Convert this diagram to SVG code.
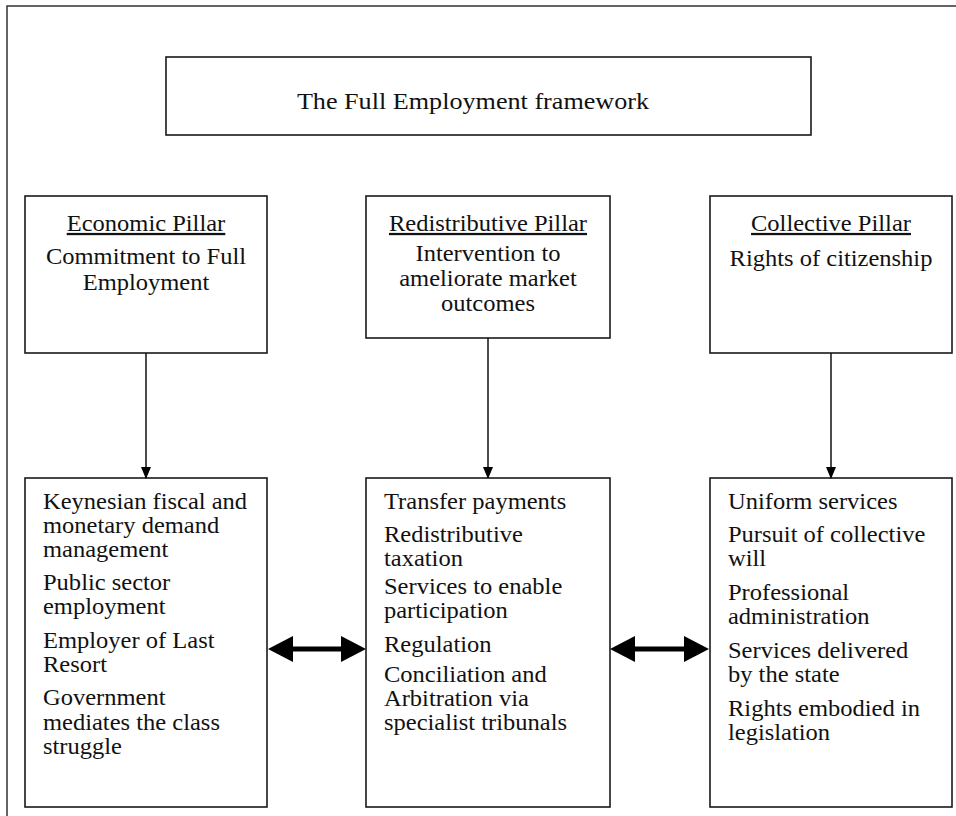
<svg xmlns="http://www.w3.org/2000/svg" width="956" height="816" viewBox="0 0 956 816">
<style>
.box{fill:#fff;stroke:#1a1a1a;stroke-width:1.6}
.t{font-family:"Liberation Serif","Times New Roman",serif;font-size:22.5px;fill:#111}
.c{text-anchor:middle}
.u{text-decoration:underline}
.ln{stroke:#111;stroke-width:1.5;fill:none}
.fr{stroke:#333;stroke-width:1.5;fill:none}
</style>
<defs>
<marker id="ah" markerWidth="12" markerHeight="10" refX="11" refY="5" orient="auto" markerUnits="userSpaceOnUse">
<path d="M0,0 L12,5 L0,10 Z" fill="#000"/>
</marker>
</defs>
<rect width="956" height="816" fill="#fff"/>
<path class="fr" d="M7,816 V6 H956"/>
<g id="title">
<rect class="box" x="166" y="57" width="645" height="78"/>
<g transform="translate(473 0) scale(1.09 1) translate(-473 0)">
<text class="t c" x="473" y="109" style="font-size:24px">The Full Employment framework</text>
</g>
</g>
<g id="economic-pillar">
<rect class="box" x="25" y="196" width="242" height="157"/>
<g transform="translate(146 0) scale(1.09 1) translate(-146 0)">
<text class="t c u" x="146" y="231">Economic Pillar</text>
<text class="t c" x="146" y="264">Commitment to Full</text>
<text class="t c" x="146" y="290">Employment</text>
</g>
</g>
<g id="redistributive-pillar">
<rect class="box" x="366" y="196" width="244" height="142"/>
<g transform="translate(488 0) scale(1.09 1) translate(-488 0)">
<text class="t c u" x="488" y="231">Redistributive Pillar</text>
<text class="t c" x="488" y="261">Intervention to</text>
<text class="t c" x="488" y="286">ameliorate market</text>
<text class="t c" x="488" y="311">outcomes</text>
</g>
</g>
<g id="collective-pillar">
<rect class="box" x="710" y="196" width="242" height="157"/>
<g transform="translate(831 0) scale(1.09 1) translate(-831 0)">
<text class="t c u" x="831" y="231">Collective Pillar</text>
<text class="t c" x="831" y="266">Rights of citizenship</text>
</g>
</g>
<g id="economic-measures">
<rect class="box" x="25" y="478" width="242" height="329"/>
<g transform="translate(43 0) scale(1.09 1) translate(-43 0)">
<text class="t" x="43" y="509">Keynesian fiscal and</text>
<text class="t" x="43" y="533">monetary demand</text>
<text class="t" x="43" y="557">management</text>
<text class="t" x="43" y="590">Public sector</text>
<text class="t" x="43" y="614">employment</text>
<text class="t" x="43" y="648">Employer of Last</text>
<text class="t" x="43" y="672">Resort</text>
<text class="t" x="43" y="705">Government</text>
<text class="t" x="43" y="730">mediates the class</text>
<text class="t" x="43" y="754">struggle</text>
</g>
</g>
<g id="redistributive-measures">
<rect class="box" x="366" y="478" width="244" height="329"/>
<g transform="translate(384 0) scale(1.09 1) translate(-384 0)">
<text class="t" x="384" y="509">Transfer payments</text>
<text class="t" x="384" y="542">Redistributive</text>
<text class="t" x="384" y="566">taxation</text>
<text class="t" x="384" y="594">Services to enable</text>
<text class="t" x="384" y="618">participation</text>
<text class="t" x="384" y="652">Regulation</text>
<text class="t" x="384" y="682">Conciliation and</text>
<text class="t" x="384" y="706">Arbitration via</text>
<text class="t" x="384" y="730">specialist tribunals</text>
</g>
</g>
<g id="collective-measures">
<rect class="box" x="710" y="478" width="242" height="329"/>
<g transform="translate(728 0) scale(1.09 1) translate(-728 0)">
<text class="t" x="728" y="509">Uniform services</text>
<text class="t" x="728" y="542">Pursuit of collective</text>
<text class="t" x="728" y="566">will</text>
<text class="t" x="728" y="600">Professional</text>
<text class="t" x="728" y="624">administration</text>
<text class="t" x="728" y="658">Services delivered</text>
<text class="t" x="728" y="682">by the state</text>
<text class="t" x="728" y="716">Rights embodied in</text>
<text class="t" x="728" y="740">legislation</text>
</g>
</g>
<g id="connectors">
<line class="ln" x1="146" y1="353" x2="146" y2="478" marker-end="url(#ah)"/>
<line class="ln" x1="488" y1="338" x2="488" y2="478" marker-end="url(#ah)"/>
<line class="ln" x1="831" y1="353" x2="831" y2="478" marker-end="url(#ah)"/>
<g fill="#000">
<rect x="290" y="646.5" width="54" height="5"/>
<path d="M268,649 L293,636 L293,662 Z"/>
<path d="M366,649 L341,636 L341,662 Z"/>
<rect x="632" y="646.5" width="55" height="5"/>
<path d="M610,649 L635,636 L635,662 Z"/>
<path d="M709,649 L684,636 L684,662 Z"/>
</g>
</g>
</svg>
